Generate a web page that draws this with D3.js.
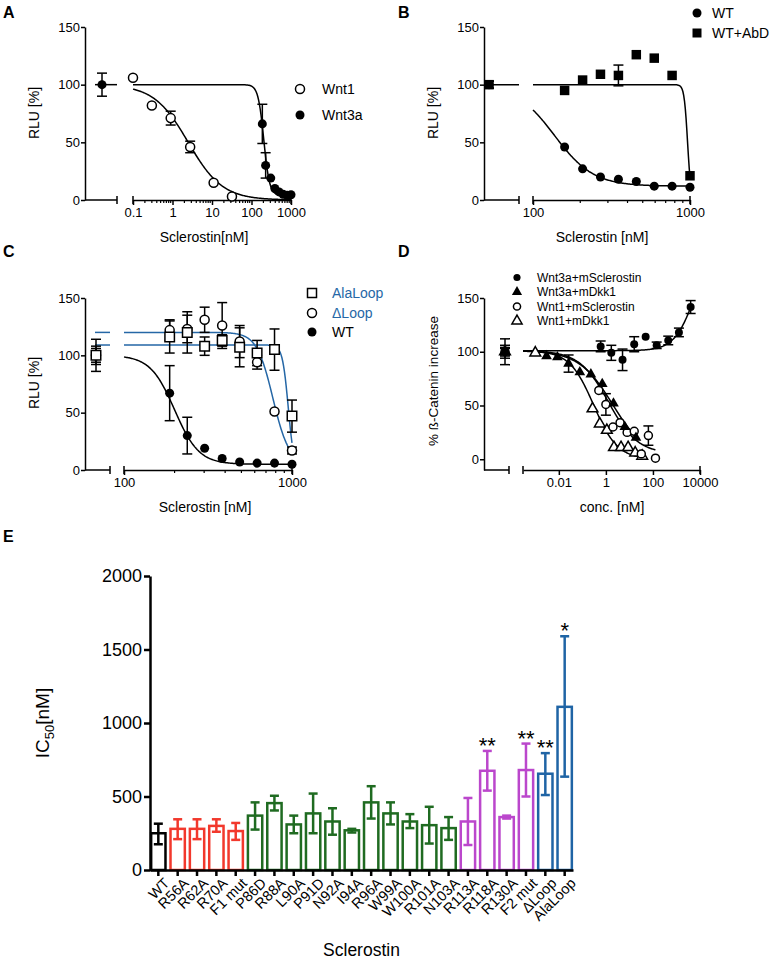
<!DOCTYPE html>
<html>
<head>
<meta charset="utf-8">
<script src="https://cdn.jsdelivr.net/npm/d3@7"></script>
<style>
body { margin: 0; background: #fff; }
svg { display: block; font-family: "Liberation Sans", Arial, sans-serif; }
</style>
</head>
<body>
<svg id="fig" width="775" height="963"></svg>
<script>
// ---- panel A : Wnt1 / Wnt3a ----
const aCtrl = [100, 10];
const aWnt1Conc = [0.1, 0.3, 0.9, 2.8, 11, 32];
const aWnt1Val = [106, 82, 71, 46, 15, 3];
const aWnt1Err = [0, 0, 6, 5, 0, 0];
const aWnt1Fit = [100, 0, 2.5, 1];          // left plateau, right plateau, IC50, slope
const aWnt3aConc = [188, 228, 307, 390, 500, 630, 800, 1000];
const aWnt3aVal = [66, 30, 19, 10, 7, 5, 4, 4.5];
const aWnt3aErr = [17, 11, 0, 0, 0, 0, 0, 0];
const aWnt3aFit = [100, 4, 205, 6];

// ---- panel B : WT / WT+AbD ----
const bConc = [159, 207, 269, 350, 455, 592, 769, 1000];
const bWtVal = [46, 27, 20, 18, 16, 12, 12, 11];
const bWtFit = [100, 12, 137, 3.5];
const bAbdVal = [95, 104, 109, 108, 126, 123, 108, 21];
const bAbdErr = [0, 0, 0, 9, 0, 0, 0, 0];
const bAbdFit = [100, 0, 965, 40];
const bCtrl = [100, 3];

// ---- panel C : AlaLoop / dLoop / WT ----
const cConc = [187, 238, 302, 384, 488, 620, 787, 1000];
const cAlaVal = [116, 120, 108, 113, 107, 102, 105, 47];
const cAlaErr = [14, 18, 8, 5, 17, 11, 18, 14];
const cAlaFit = [109, 0, 950, 25];
const cDelVal = [122, 123, 131, 126, 112, 94, 51, 17];
const cDelErr = [9, 12, 11, 20, 14, 6, 0, 3];
const cDelFit = [120, 5, 770, 9];
const cWtVal = [67, 30, 19, 10, 7, 6, 6, 5];
const cWtErr = [24, 16, 0, 0, 0, 0, 0, 0];
const cWtFit = [100, 5, 200, 6];
const cCtrlVals = [100, 100, 100];
const cCtrlErr = [14, 8, 6];

// ---- panel D : beta-catenin ----
const dCtrlErr = [12, 6, 4, 3];
const dSclWnt3aConc = [0.6, 1.7, 5.1, 16, 49, 144, 447, 1270, 4000];
const dSclWnt3aVal = [105, 99, 92.5, 107, 114, 106, 110.5, 118, 141.6];
const dSclWnt3aErr = [5, 7, 10, 7, 0, 3, 4, 4, 6];
const dSclWnt3aFit = [101, 201, 6000, 1];
const dDkkWnt3aConc = [0.003, 0.0087, 0.026, 0.078, 0.23, 0.7, 2.1, 6.4, 19];
const dDkkWnt3aVal = [96, 95, 89, 81, 79, 70, 52, 30, 20];
const dDkkWnt3aErr = [0, 0, 8, 0, 0, 0, 0, 0, 0];
const dDkkWnt3aFit = [101, 0, 2, 0.6];
const dSclWnt1Conc = [0.5, 1, 2, 4, 8, 16, 32, 64, 128];
const dSclWnt1Val = [64, 51, 30, 34, 25, 26, 5, 22, 1];
const dSclWnt1Err = [0, 10, 0, 0, 0, 0, 0, 9, 0];
const dSclWnt1Fit = [101, 5, 1.3, 0.7];
const dDkkWnt1Conc = [0.001, 0.27, 0.55, 1.1, 2.2, 4.4, 8.8, 17.6, 35];
const dDkkWnt1Val = [99, 47, 33, 27, 11, 11, 11, 6, 3];
const dDkkWnt1Fit = [101, 0, 0.3, 0.85];

// ---- panel E : IC50 per mutant ----
const eLabels = ["WT", "R56A", "R62A", "R70A", "F1 mut", "P86D", "R88A", "L90A", "P91D", "N92A", "I94A",
  "R96A", "W99A", "W100A", "R101A", "N103A", "R113A", "R118A", "R130A", "F2 mut", "\u0394Loop", "AlaLoop"];
const eMean = [250, 280, 280, 300, 265, 370, 455, 310, 385, 330, 270, 460, 385, 330, 305, 285, 330, 675, 360, 680, 655, 1110];
const eLow = [175, 210, 210, 260, 205, 275, 405, 250, 250, 240, 255, 350, 310, 285, 180, 205, 170, 540, 350, 500, 510, 635];
const eHigh = [315, 345, 345, 345, 320, 460, 505, 370, 520, 420, 280, 570, 460, 380, 430, 360, 490, 810, 370, 860, 795, 1590];
const eGroup = [0, 1, 1, 1, 1, 2, 2, 2, 2, 2, 2, 2, 2, 2, 2, 2, 3, 3, 3, 3, 4, 4];
const eStars = ["", "", "", "", "", "", "", "", "", "", "", "", "", "", "", "", "", "**", "", "**", "**", "*"];
const eTicks = [0, 500, 1000, 1500, 2000];
const eColors = ["#000000", "#f2382c", "#1f6b21", "#bb47cc", "#1f64a5"];

const blue = "#2567a6";
const svg = d3.select("#fig");

function fit(x, p) { return p[1] + (p[0] - p[1]) / (1 + Math.pow(x / p[2], p[3])); }

function styleAxis(sel, size) {
  sel.attr("font-family", null).attr("font-size", size);
  sel.selectAll("path, line").attr("stroke", "#000").attr("stroke-width", 1.5);
  sel.selectAll("text").attr("fill", "#000");
}

function dosePanel(L, series, legend) {
  const g = svg.append("g");
  const y = d3.scaleLinear().domain(L.yDom).range([L.yBot, L.yTop]);
  const x = d3.scaleLog().domain(L.dom).range(L.lx);

  g.append("g").attr("transform", "translate(" + L.ax + ",0)")
    .call(d3.axisLeft(y).tickValues([0, 50, 100, 150]).tickSize(4).tickSizeOuter(0).tickPadding(1))
    .call(styleAxis, 13);
  g.append("g").attr("transform", "translate(0," + L.yBot + ")")
    .call(d3.axisBottom(x).tickValues(L.majors).tickFormat(d => String(d)).tickSize(5).tickSizeOuter(0).tickPadding(3))
    .call(styleAxis, 13);

  if (L.minor) {
    let minors = [];
    for (let e = Math.floor(Math.log10(L.dom[0])); e < Math.ceil(Math.log10(L.dom[1])); e++)
      for (let k = 2; k < 10; k++) {
        let v = k * Math.pow(10, e);
        if (v > L.dom[0] && v < L.dom[1]) minors.push(v);
      }
    g.append("g").selectAll("line").data(minors).join("line")
      .attr("x1", d => x(d)).attr("x2", d => x(d))
      .attr("y1", L.yBot).attr("y2", L.yBot + 3)
      .attr("stroke", "#000").attr("stroke-width", 1.2);
  }
  // broken axis: short control segment plus end ticks
  g.append("line").attr("x1", L.ax).attr("x2", L.seg).attr("y1", L.yBot).attr("y2", L.yBot)
    .attr("stroke", "#000").attr("stroke-width", 1.5);
  g.append("g").selectAll("line").data([L.seg, L.lx[0], L.lx[1]]).join("line")
    .attr("x1", d => d).attr("x2", d => d).attr("y1", L.yBot - 4).attr("y2", L.yBot + 4)
    .attr("stroke", "#000").attr("stroke-width", 1.5);

  // titles
  g.append("text").attr("transform", "translate(" + L.yTitle[0] + "," + L.yTitle[1] + ") rotate(-90)")
    .attr("text-anchor", "middle").attr("font-size", L.yTitleSize || 14).text(L.yLabel);
  g.append("text").attr("x", L.xTitle[0]).attr("y", L.xTitle[1])
    .attr("text-anchor", "middle").attr("font-size", 14).text(L.xLabel);
  g.append("text").attr("x", L.letter[0]).attr("y", L.letter[1])
    .attr("font-weight", "bold").attr("font-size", 16).text(L.name);

  // curves
  series.forEach(s => {
    if (!s.fit) return;
    const x1 = s.end || L.dom[1];
    const pts = d3.range(201).map(i => L.dom[0] * Math.pow(x1 / L.dom[0], i / 200));
    g.append("path").attr("d", d3.line().x(d => x(d)).y(d => y(fit(d, s.fit)))(pts))
      .attr("fill", "none").attr("stroke", s.color || "#000").attr("stroke-width", 1.5);
    if (s.lead)
      g.append("line").attr("x1", L.lead).attr("x2", L.seg)
        .attr("y1", y(s.fit[0])).attr("y2", y(s.fit[0]))
        .attr("stroke", s.color || "#000").attr("stroke-width", 1.5);
  });

  const points = s => {
    let p = s.conc.map((c, i) => ({ px: x(c), v: s.val[i], e: s.err ? s.err[i] : 0 }));
    if (s.ctrl) p.unshift({ px: L.ctrl, v: s.ctrl[0], e: s.ctrl[1] });
    return p;
  };
  // error bars
  series.forEach(s => {
    points(s).filter(p => p.e > 0).forEach(p => {
      const eg = g.append("g").attr("stroke", "#000").attr("stroke-width", 1.5);
      eg.append("line").attr("x1", p.px).attr("x2", p.px).attr("y1", y(p.v - p.e)).attr("y2", y(p.v + p.e));
      [p.v - p.e, p.v + p.e].forEach(v =>
        eg.append("line").attr("x1", p.px - 5).attr("x2", p.px + 5).attr("y1", y(v)).attr("y2", y(v)));
    });
  });
  // markers
  series.forEach(s => {
    g.append("g").selectAll("path").data(points(s)).join("path")
      .attr("transform", p => "translate(" + p.px + "," + y(p.v) + ")")
      .attr("d", d3.symbol().type(s.shape).size(s.size)())
      .attr("fill", s.open ? "#fff" : "#000")
      .attr("stroke", "#000").attr("stroke-width", s.open ? 1.5 : 0);
  });

  // legend
  legend.items.forEach((it, i) => {
    const ly = legend.y[i];
    g.append("path").attr("transform", "translate(" + legend.x + "," + ly + ")")
      .attr("d", d3.symbol().type(it.shape).size(it.size)())
      .attr("fill", it.open ? "#fff" : "#000").attr("stroke", "#000").attr("stroke-width", it.open ? 1.5 : 0);
    g.append("text").attr("x", legend.tx).attr("y", ly).attr("dy", "0.35em")
      .attr("font-size", legend.size).attr("fill", it.color || "#000").text(it.label);
  });
}

const OC = { shape: d3.symbolCircle, size: 64, open: true };
const FC = { shape: d3.symbolCircle, size: 64, open: false };
const TRI = d3.symbolTriangle;

// A
dosePanel(
  { name: "A", letter: [3, 18], ax: 85, seg: 117, ctrl: 102, lead: 95, lx: [133, 291], dom: [0.1, 1000],
    majors: [0.1, 1, 10, 100, 1000], minor: true, yTop: 27, yBot: 200, yDom: [0, 150],
    yLabel: "RLU [%]", yTitle: [39, 113], xLabel: "Sclerostin[nM]", xTitle: [204, 242] },
  [
    Object.assign({ conc: aWnt3aConc, val: aWnt3aVal, err: aWnt3aErr, fit: aWnt3aFit, lead: true, ctrl: aCtrl }, FC),
    Object.assign({ conc: aWnt1Conc, val: aWnt1Val, err: aWnt1Err, fit: aWnt1Fit }, OC)
  ],
  { x: 300, tx: 322, y: [89, 115], size: 14,
    items: [Object.assign({ label: "Wnt1" }, OC), Object.assign({ label: "Wnt3a" }, FC)] }
);

// B
dosePanel(
  { name: "B", letter: [398, 18], ax: 484, seg: 519, ctrl: 489, lead: 485, lx: [533, 690], dom: [100, 1000],
    majors: [100, 1000], minor: true, yTop: 27, yBot: 200, yDom: [0, 150],
    yLabel: "RLU [%]", yTitle: [438, 113], xLabel: "Sclerostin [nM]", xTitle: [602, 242] },
  [
    Object.assign({ conc: bConc, val: bWtVal, fit: bWtFit, ctrl: bCtrl }, FC),
    { conc: bConc, val: bAbdVal, err: bAbdErr, fit: bAbdFit, lead: true, ctrl: bCtrl, shape: d3.symbolSquare, size: 90, open: false }
  ],
  { x: 697, tx: 712, y: [13, 33], size: 14,
    items: [Object.assign({ label: "WT" }, FC), { label: "WT+AbD", shape: d3.symbolSquare, size: 81, open: false }] }
);

// C
dosePanel(
  { name: "C", letter: [3, 257], ax: 85, seg: 110, ctrl: 96, lead: 95, lx: [124, 292], dom: [100, 1000],
    majors: [100, 1000], minor: true, yTop: 298, yBot: 470, yDom: [0, 150],
    yLabel: "RLU [%]", yTitle: [39, 383], xLabel: "Sclerostin [nM]", xTitle: [205, 512] },
  [
    Object.assign({ conc: cConc, val: cWtVal, err: cWtErr, fit: cWtFit, ctrl: [cCtrlVals[2], cCtrlErr[2]] }, FC),
    Object.assign({ conc: cConc, val: cDelVal, err: cDelErr, fit: cDelFit, lead: true, color: blue, ctrl: [cCtrlVals[1], cCtrlErr[1]] }, OC),
    { conc: cConc, val: cAlaVal, err: cAlaErr, fit: cAlaFit, lead: true, color: blue, ctrl: [cCtrlVals[0], cCtrlErr[0]],
      shape: d3.symbolSquare, size: 90, open: true }
  ],
  { x: 312, tx: 332, y: [293, 313, 332], size: 14,
    items: [{ label: "AlaLoop", shape: d3.symbolSquare, size: 81, open: true, color: blue },
      Object.assign({ label: "\u0394Loop", color: blue }, OC), Object.assign({ label: "WT" }, FC)] }
);

// D
dosePanel(
  { name: "D", letter: [398, 257], ax: 484, seg: 509, ctrl: 505, lx: [523, 700], dom: [0.0003, 10000],
    majors: [0.01, 1, 100, 10000], minor: false, yTop: 298, yBot: 470, yDom: [-10, 150],
    yLabel: "% \u00DF-Catenin increase", yTitleSize: 13.5, yTitle: [438, 381], xLabel: "conc. [nM]", xTitle: [612, 512] },
  [
    { conc: dDkkWnt1Conc, val: dDkkWnt1Val, fit: dDkkWnt1Fit, end: 35, ctrl: [100, dCtrlErr[3]], shape: TRI, size: 50, open: true },
    { conc: dSclWnt1Conc, val: dSclWnt1Val, err: dSclWnt1Err, fit: dSclWnt1Fit, end: 128, ctrl: [100, dCtrlErr[2]], shape: d3.symbolCircle, size: 50, open: true },
    { conc: dDkkWnt3aConc, val: dDkkWnt3aVal, err: dDkkWnt3aErr, fit: dDkkWnt3aFit, end: 19, ctrl: [100, dCtrlErr[1]], shape: TRI, size: 50, open: false },
    { conc: dSclWnt3aConc, val: dSclWnt3aVal, err: dSclWnt3aErr, fit: dSclWnt3aFit, end: 4000, ctrl: [100, dCtrlErr[0]], shape: d3.symbolCircle, size: 50, open: false }
  ],
  { x: 517, tx: 537, y: [277.5, 292, 306.5, 321], size: 12,
    items: [{ label: "Wnt3a+mSclerostin", shape: d3.symbolCircle, size: 40, open: false },
      { label: "Wnt3a+mDkk1", shape: TRI, size: 45, open: false },
      { label: "Wnt1+mSclerostin", shape: d3.symbolCircle, size: 40, open: true },
      { label: "Wnt1+mDkk1", shape: TRI, size: 45, open: true }] }
);

// E
(function () {
  const g = svg.append("g");
  const x0 = 150, x1 = 573, yB = 870, yT = 576;
  const y = d3.scaleLinear().domain([0, 2000]).range([yB, yT]);
  const x = d3.scaleBand().domain(eLabels).range([x0, x1]).paddingInner(0.26).paddingOuter(0.06);
  const bw = x.bandwidth();

  g.append("text").attr("x", 3).attr("y", 542).attr("font-weight", "bold").attr("font-size", 16).text("E");

  eLabels.forEach((lab, i) => {
    const col = eColors[eGroup[i]];
    const cx = x(lab) + bw / 2;
    g.append("rect").attr("x", x(lab)).attr("y", y(eMean[i])).attr("width", bw).attr("height", yB - y(eMean[i]))
      .attr("fill", "none").attr("stroke", col).attr("stroke-width", 2.5);
    const eg = g.append("g").attr("stroke", col).attr("stroke-width", 2.5);
    eg.append("line").attr("x1", cx).attr("x2", cx).attr("y1", y(eLow[i])).attr("y2", y(eHigh[i]));
    [eLow[i], eHigh[i]].forEach(v =>
      eg.append("line").attr("x1", cx - 4.5).attr("x2", cx + 4.5).attr("y1", y(v)).attr("y2", y(v)));
    if (eStars[i])
      g.append("text").attr("x", cx).attr("y", y(eHigh[i]) + 2).attr("text-anchor", "middle")
        .attr("font-size", 22).text(eStars[i]);
  });

  g.append("g").attr("transform", "translate(" + x0 + ",0)")
    .call(d3.axisLeft(y).tickValues(eTicks).tickFormat(d3.format("d")).tickSize(6).tickSizeOuter(0).tickPadding(2))
    .call(styleAxis, 18)
    .call(a => a.selectAll("path, line").attr("stroke-width", 2.5));
  g.append("g").attr("transform", "translate(0," + yB + ")")
    .call(d3.axisBottom(x).tickSize(6).tickSizeOuter(0).tickPadding(3))
    .call(styleAxis, 14.5)
    .call(a => a.selectAll("path, line").attr("stroke-width", 2.5))
    .call(a => a.selectAll("text").attr("text-anchor", "end").attr("dx", "-0.1em").attr("dy", "0.65em")
      .attr("transform", "rotate(-45)"));

  g.append("text").attr("transform", "translate(49," + ((yB + yT) / 2) + ") rotate(-90)")
    .attr("text-anchor", "middle").attr("font-size", 19)
    .call(t => {
      t.append("tspan").text("IC");
      t.append("tspan").attr("font-size", 13).attr("dy", 5).text("50");
      t.append("tspan").attr("dy", -5).text("[nM]");
    });
  g.append("text").attr("x", (x0 + x1) / 2).attr("y", 956).attr("text-anchor", "middle")
    .attr("font-size", 17.5).text("Sclerostin");
})();
</script>
</body>
</html>
